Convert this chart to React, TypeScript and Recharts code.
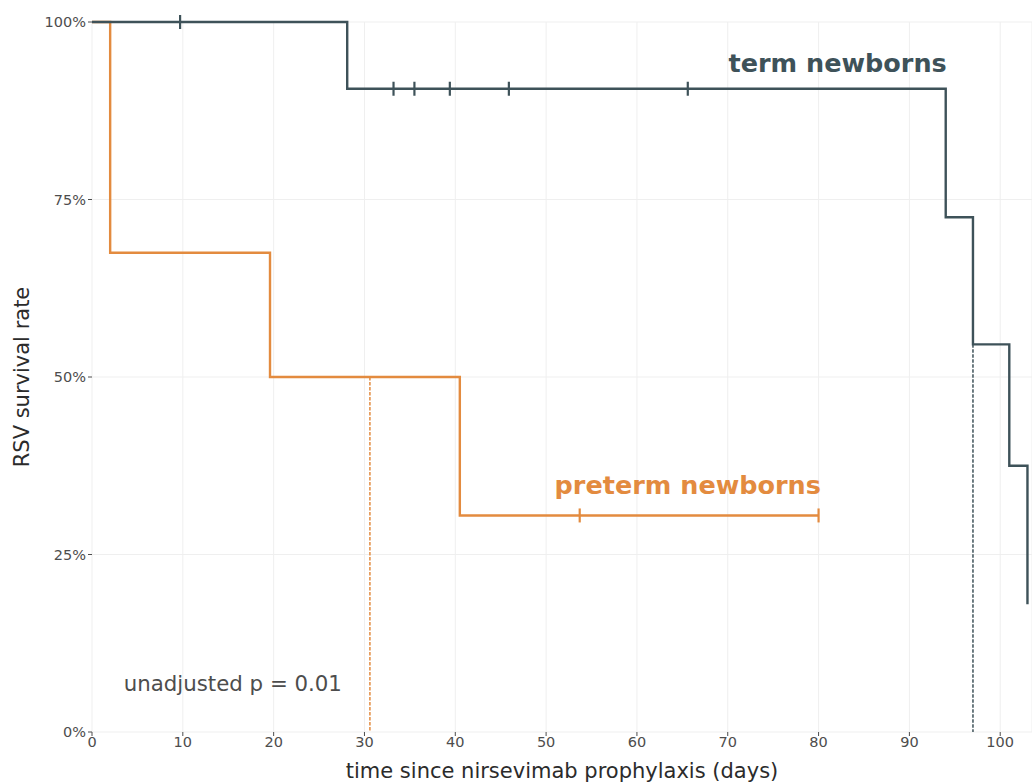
import React from "react";
import {
  LineChart,
  Line,
  XAxis,
  YAxis,
  CartesianGrid,
  ReferenceDot,
  Label,
} from "recharts";

// Kaplan-Meier steps (days, % still RSV-free)
const termTimes = [0, 9.7, 28.1, 33.2, 35.5, 39.4, 45.9, 65.6, 94, 97, 101, 103];
const termSurv = [100, 100, 90.6, 90.6, 90.6, 90.6, 90.6, 90.6, 72.5, 54.6, 37.5, 18];
const termCensored = [false, true, false, true, true, true, true, true, false, false, false, false];

const pretermTimes = [0, 2, 19.6, 40.5, 53.7, 80];
const pretermSurv = [100, 67.5, 50, 30.5, 30.5, 30.5];
const pretermCensored = [false, false, false, false, true, true];

// dotted median drop lines
const termMedianX = [97, 97];
const termMedianY = [54.6, 0];
const pretermMedianX = [30.6, 30.6];
const pretermMedianY = [50, 0];

const xTicks = [0, 10, 20, 30, 40, 50, 60, 70, 80, 90, 100];
const yTicks = [0, 25, 50, 75, 100];

const TERM = "#3e5259";
const PRETERM = "#e38b3f";
const FONT = "'DejaVu Sans', sans-serif";

const toRows = (ts: number[], ss: number[], cs?: boolean[]) =>
  ts.map((t, i) => ({ t, s: ss[i], c: cs ? cs[i] : false }));

const termData = toRows(termTimes, termSurv, termCensored);
const pretermData = toRows(pretermTimes, pretermSurv, pretermCensored);
const termMedian = toRows(termMedianX, termMedianY);
const pretermMedian = toRows(pretermMedianX, pretermMedianY);

function censorDot(color: string) {
  return (props: any) => {
    const { cx, cy, payload, index } = props;
    if (!payload || !payload.c) return <g key={`n-${index}`} />;
    return (
      <line
        key={`c-${index}`}
        x1={cx}
        x2={cx}
        y1={cy - 7}
        y2={cy + 7}
        stroke={color}
        strokeWidth={2.2}
      />
    );
  };
}

function textLabel(text: string, color: string, size: number, weight: number, anchor: string) {
  return (props: any) => {
    const vb = props.viewBox || {};
    const x = vb.cx !== undefined ? vb.cx : vb.x;
    const y = vb.cy !== undefined ? vb.cy : vb.y;
    return (
      <text
        x={x}
        y={y}
        fill={color}
        fontSize={size}
        fontWeight={weight}
        fontFamily={FONT}
        textAnchor={anchor}
        dominantBaseline="central"
      >
        {text}
      </text>
    );
  };
}

export default function App() {
  const tick = { fill: "#4d4d4d", fontSize: 14.5, fontFamily: FONT };
  return (
    <div style={{ position: "absolute", left: 0, top: 0, background: "#fff" }}>
      <LineChart
        width={1032}
        height={783}
        margin={{ top: 22, right: 0, bottom: 0, left: 0 }}
      >
        <CartesianGrid stroke="#efefef" strokeWidth={1} />
        <XAxis
          type="number"
          dataKey="t"
          domain={[0, 103.5]}
          ticks={xTicks}
          axisLine={false}
          tickSize={4}
          tickLine={{ stroke: "#4d4d4d" }}
          tick={tick}
          tickMargin={1}
          height={51}
        >
          <Label
            value="time since nirsevimab prophylaxis (days)"
            position="insideBottom"
            offset={5}
            style={{ fill: "#2b2b2b", fontSize: 21, fontFamily: FONT }}
          />
        </XAxis>
        <YAxis
          type="number"
          dataKey="s"
          domain={[0, 100]}
          ticks={yTicks}
          axisLine={false}
          tickSize={4}
          tickLine={{ stroke: "#4d4d4d" }}
          tick={tick}
          tickMargin={2}
          tickFormatter={(v) => `${v}%`}
          width={92}
        >
          <Label
            value="RSV survival rate"
            angle={-90}
            position="insideLeft"
            offset={22}
            style={{ fill: "#2b2b2b", fontSize: 21, fontFamily: FONT, textAnchor: "middle" }}
          />
        </YAxis>

        <Line
          data={pretermMedian}
          dataKey="s"
          stroke={PRETERM}
          strokeWidth={1.5}
          strokeDasharray="3.5 1.5"
          dot={false}
          activeDot={false}
          isAnimationActive={false}
        />
        <Line
          data={termMedian}
          dataKey="s"
          stroke={TERM}
          strokeWidth={1.5}
          strokeDasharray="3.5 1.5"
          dot={false}
          activeDot={false}
          isAnimationActive={false}
        />
        <Line
          data={pretermData}
          dataKey="s"
          type="stepAfter"
          stroke={PRETERM}
          strokeWidth={2.4}
          dot={censorDot(PRETERM)}
          activeDot={false}
          isAnimationActive={false}
        />
        <Line
          data={termData}
          dataKey="s"
          type="stepAfter"
          stroke={TERM}
          strokeWidth={2.4}
          dot={censorDot(TERM)}
          activeDot={false}
          isAnimationActive={false}
        />

        <ReferenceDot
          x={82.1}
          y={94.2}
          r={0}
          label={textLabel("term newborns", TERM, 25.5, 700, "middle")}
        />
        <ReferenceDot
          x={65.6}
          y={34.8}
          r={0}
          label={textLabel("preterm newborns", PRETERM, 25.5, 700, "middle")}
        />
        <ReferenceDot
          x={3.5}
          y={6.9}
          r={0}
          label={textLabel("unadjusted p = 0.01", "#4d4d4d", 21.3, 400, "start")}
        />
      </LineChart>
    </div>
  );
}
